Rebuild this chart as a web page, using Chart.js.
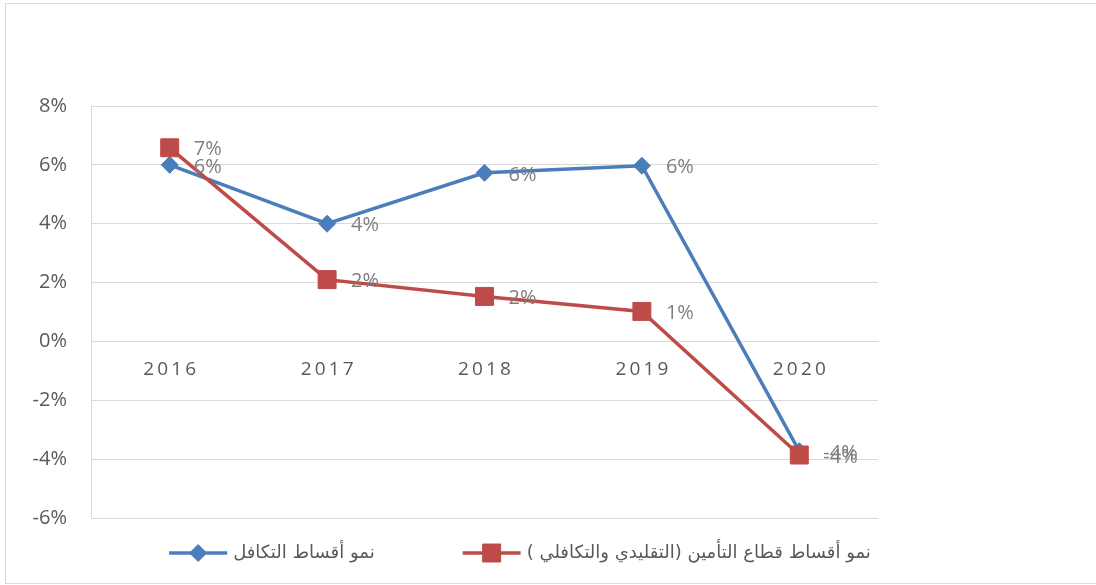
<!DOCTYPE html>
<html lang="ar">
<head>
<meta charset="utf-8">
<script src="https://cdn.jsdelivr.net/npm/chart.js@4.4.1/dist/chart.umd.min.js"></script>
<style>
  html, body { margin: 0; padding: 0; background: #fff; }
  #frame { position: absolute; left: 5px; top: 3px; width: 1100px; height: 579px; border: 1px solid #d9d9d9; }
  #chart { display: block; }
</style>
</head>
<body>
<div id="frame"><canvas id="chart" width="1090" height="578"></canvas></div>
<script>
// categories and series (percent)
const years = ['2016', '2017', '2018', '2019', '2020'];
const takafulGrowth = [6.0, 4.0, 5.73, 5.97, -3.73];
const sectorGrowth = [6.58, 2.10, 1.53, 1.02, -3.86];
const takafulLabel = 'نمو أقساط التكافل';
const sectorLabel = 'نمو أقساط قطاع التأمين (التقليدي والتكافلي )';
const yMin = -6;
const yMax = 8;
const yStep = 2;

const BLUE = '#4a7ebb';
const RED = '#be4b48';
const TEXT = '#595959';
const GRID = '#d9d9d9';

// percent labels to the right of each point
const pointLabels = {
    id: 'pointLabels',
    afterDatasetsDraw(chart) {
        const ctx = chart.ctx;
        ctx.save();
        ctx.font = '20px "Open Sans"';
        ctx.fillStyle = '#7f7f7f';
        ctx.textAlign = 'left';
        ctx.textBaseline = 'middle';
        chart.data.datasets.forEach((ds, i) => {
            chart.getDatasetMeta(i).data.forEach((pt, j) => {
                ctx.fillText(Math.round(ds.data[j]) + '%', pt.x + 24, pt.y + 2);
            });
        });
        ctx.restore();
    }
};

// legend: line + marker, then the Arabic label
const bottomLegend = {
    id: 'bottomLegend',
    afterDraw(chart) {
        const ctx = chart.ctx;
        const y = chart.chartArea.bottom + 35;
        const symW = 58, gapText = 6, gapItem = 88;
        ctx.save();
        ctx.font = '18px "DejaVu Sans"';
        ctx.direction = 'rtl';
        const items = chart.data.datasets.map(ds => ({ ds, w: ctx.measureText(ds.label).width }));
        const total = items.reduce((s, it) => s + symW + gapText + it.w, 0) + gapItem * (items.length - 1);
        let x = 514 - total / 2;
        items.forEach(({ ds, w }) => {
            ctx.strokeStyle = ds.borderColor;
            ctx.lineWidth = 3.5;
            ctx.beginPath();
            ctx.moveTo(x, y);
            ctx.lineTo(x + symW, y);
            ctx.stroke();
            ctx.fillStyle = ds.backgroundColor;
            ctx.lineWidth = 1;
            Chart.helpers.drawPoint(ctx, { pointStyle: ds.pointStyle, radius: ds.pointRadius, borderWidth: 1, rotation: 0 }, x + symW / 2, y);
            ctx.fillStyle = TEXT;
            ctx.textAlign = 'left';
            ctx.textBaseline = 'middle';
            ctx.fillText(ds.label, x + symW + gapText, y);
            x += symW + gapText + w + gapItem;
        });
        ctx.restore();
    }
};

new Chart(document.getElementById('chart'), {
    type: 'line',
    data: {
        labels: years,
        datasets: [{
            label: takafulLabel,
            data: takafulGrowth,
            borderColor: BLUE,
            backgroundColor: BLUE,
            borderWidth: 3.5,
            pointStyle: 'rectRot',
            pointRadius: 8.5,
            pointBorderWidth: 1,
            tension: 0,
            order: 1
        }, {
            label: sectorLabel,
            data: sectorGrowth,
            borderColor: RED,
            backgroundColor: RED,
            borderWidth: 3.5,
            pointStyle: 'rect',
            pointRadius: 12.7,
            pointBorderWidth: 1,
            tension: 0,
            order: 0
        }]
    },
    options: {
        responsive: false,
        animation: false,
        layout: { padding: { left: 0, right: 218, top: 102, bottom: 64 } },
        plugins: {
            legend: { display: false },
            tooltip: { enabled: false }
        },
        scales: {
            x: {
                offset: true,
                position: { y: 0 },
                grid: { display: false, drawTicks: false },
                border: { display: true, color: GRID, width: 1 },
                ticks: {
                    padding: 17,
                    color: TEXT,
                    font: { family: 'Open Sans', size: 19 },
                    maxRotation: 0,
                    autoSkip: false,
                    callback(v, i) { return years[i].split('').join('\u2009'); }
                }
            },
            y: {
                min: yMin,
                max: yMax,
                afterFit(scale) { scale.width = 85; },
                grid: { color: GRID, lineWidth: 1, drawTicks: false },
                border: { display: true, color: GRID, width: 1 },
                ticks: {
                    stepSize: yStep,
                    padding: 24,
                    color: TEXT,
                    font: { family: 'Open Sans', size: 20 },
                    callback(v) { return v + '%'; }
                }
            }
        }
    },
    plugins: [pointLabels, bottomLegend]
});
</script>
</body>
</html>
